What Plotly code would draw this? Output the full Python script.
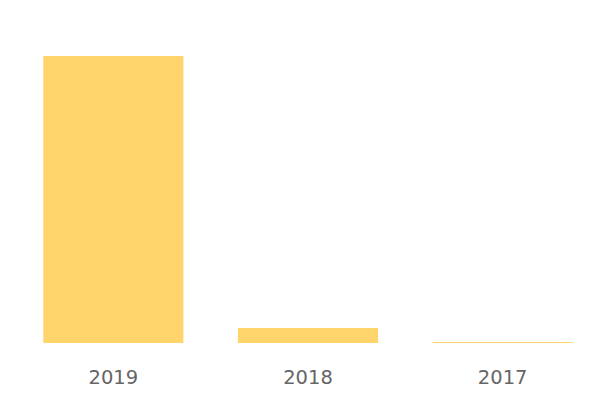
import plotly.graph_objects as go

categories = ["2019", "2018", "2017"]
values = [287, 15, 1]

fig = go.Figure(go.Bar(x=categories, y=values, marker_color="#FFD56B",
                       marker_line_width=0))
fig.update_layout(
    width=600, height=400,
    margin=dict(l=8, r=8, t=48, b=65, autoexpand=False),
    paper_bgcolor="white", plot_bgcolor="white",
    bargap=0.28, showlegend=False,
    font=dict(family="DejaVu Sans, sans-serif"),
)
fig.update_xaxes(showgrid=False, showline=False, zeroline=False,
                 ticks="outside", ticklen=17, tickcolor="rgba(0,0,0,0)",
                 tickfont=dict(size=19.5, color="#666666"))
fig.update_yaxes(visible=False, range=[0, 287])
fig.write_html("out.html")
